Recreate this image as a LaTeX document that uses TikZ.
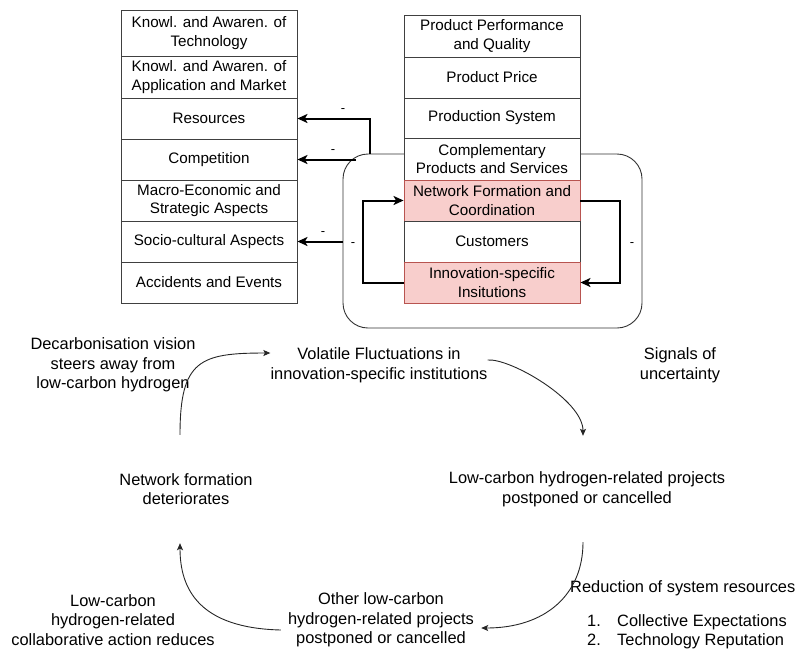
\documentclass[tikz,border=0pt]{standalone}
\usepackage{fontspec}
\setmainfont{Liberation Sans}
\usetikzlibrary{arrows.meta,calc}
\definecolor{redfill}{HTML}{F8CECC}
\definecolor{redline}{HTML}{B85450}

\begin{document}
\begin{tikzpicture}[x=1pt,y=-1pt,
  cell/.style={draw=black!75, line width=0.9pt, fill=white, minimum width=176pt,
    inner sep=0pt, align=center, font=\fontsize{15.2}{18.5}\selectfont},
  hot/.style={cell, fill=redfill, draw=redline},
  txt/.style={align=center, inner sep=0pt, font=\fontsize{16.4}{19.5}\selectfont},
  link/.style={line width=2pt, -{Stealth[length=10pt,width=9pt,inset=2.5pt]}},
  flow/.style={line width=0.9pt, black!85, -{Stealth[length=7pt,width=6pt,inset=1.5pt]}},
  sign/.style={inner sep=0pt, font=\fontsize{13}{15}\selectfont},
]
\useasboundingbox (0,0) rectangle (797,649);

% system boundary around the coupled functions
\node[draw=black!80, line width=0.9pt, rounded corners=25pt,
      minimum width=299pt, minimum height=174pt, inner sep=0pt] (sys) at (492.5,241) {};

% left column: system functions
\node[cell, minimum height=46pt] (L1) at (209,33)    {Knowl. and Awaren. of\\Technology};
\node[cell, minimum height=42pt] (L2) at (209,77)    {Knowl. and Awaren. of\\Application and Market};
\node[cell, minimum height=41pt] (L3) at (209,118.5) {Resources};
\node[cell, minimum height=41pt] (L4) at (209,159.5) {Competition};
\node[cell, minimum height=41pt] (L5) at (209,200.5) {Macro-Economic and\\Strategic Aspects};
\node[cell, minimum height=41pt] (L6) at (209,241.5) {Socio-cultural Aspects};
\node[cell, minimum height=41pt] (L7) at (209,282.5) {Accidents and Events};

% right column: product and network functions
\node[cell, minimum height=42pt] (R1) at (492,36)    {Product Performance\\and Quality};
\node[cell, minimum height=41pt] (R2) at (492,77.5)  {Product Price};
\node[cell, minimum height=40pt] (R3) at (492,118)   {Production System};
\node[cell, minimum height=42pt] (R4) at (492,159)   {Complementary\\Products and Services};
\node[hot,  minimum height=41pt] (R5) at (492,200.5) {Network Formation and\\Coordination};
\node[cell, minimum height=41pt] (R6) at (492,241.5) {Customers};
\node[hot,  minimum height=41pt] (R7) at (492,282.5) {Innovation-specific\\Insitutions};

% negative influences from the boundary onto the left column
\coordinate (tapR) at (370,154);
\coordinate (tapC) at (356,159.5);
\draw[link] (tapR) |- (L3.east);
\draw[link] (tapC) -- (L4.east);
\draw[link] (sys.west |- L6.east) -- (L6.east);
\node[sign] (m1) at (343,111) {-};
\node[sign] (m2) at (333,152) {-};
\node[sign] (m3) at (323,234) {-};

% mutual loop between network formation and institutions
\draw[link] (R7.west) -- ++(-41,0) |- (R5.west);
\draw[link] (R5.east) -- ++(40,0) |- (R7.east);
\node[sign] (m4) at (353,245) {-};
\node[sign] (m5) at (632,245) {-};

% vicious cycle
\node[txt] (dec) at (113,365) {Decarbonisation vision\\steers away from\\low-carbon hydrogen};
\node[txt, minimum width=200pt] (vol) at (379,365) {Volatile Fluctuations in\\innovation-specific institutions};
\node[txt] (sig) at (680,365) {Signals of\\uncertainty};
\node[txt, minimum height=108pt] (nfd) at (186,489) {Network formation\\deteriorates};
\node[txt, minimum height=106pt] (lcp) at (587,489) {Low-carbon hydrogen-related projects\\postponed or cancelled};
\node[txt, minimum width=200pt] (olc) at (381,620) {Other low-carbon\\hydrogen-related projects\\postponed or cancelled};
\node[txt] (lca) at (113,620) {Low-carbon\\hydrogen-related\\collaborative action reduces};
\node[txt, anchor=base west] (red) at (570,592) {Reduction of system resources};
\node[txt, anchor=base west] (n1) at (587,626) {1.};
\node[txt, anchor=base west] (i1) at (617,626) {Collective Expectations};
\node[txt, anchor=base west] (n2) at (587,645) {2.};
\node[txt, anchor=base west] (i2) at (617,645) {Technology Reputation};

\draw[flow] ([xshift=-6pt]nfd.north) .. controls (180,360) and (200,353) .. ([yshift=12pt]vol.west);
\draw[flow] ([yshift=5pt]vol.east) .. controls (510,358) and (583,400) .. ([xshift=-4pt]lcp.north);
\draw[flow] ([xshift=-4pt]lcp.south) .. controls (583,595) and (545,628) .. ([yshift=-8pt]olc.east);
\draw[flow] ([yshift=-10pt]olc.west) .. controls (200,628) and (180,590) .. ([xshift=-6pt]nfd.south);
\end{tikzpicture}
\end{document}
